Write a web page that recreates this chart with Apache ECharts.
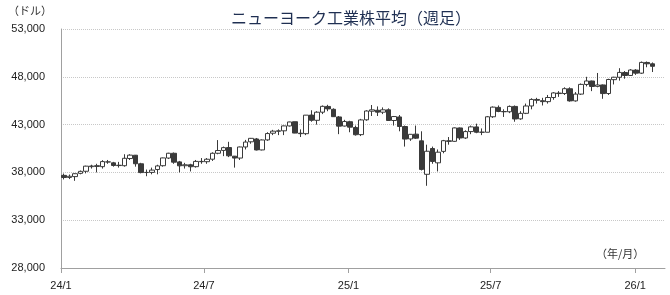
<!DOCTYPE html>
<html><head><meta charset="utf-8">
<script src="https://cdn.jsdelivr.net/npm/echarts@6/dist/echarts.min.js"></script>
<style>html,body{margin:0;padding:0;background:#fff}#c{width:670px;height:295px}</style>
</head><body><div id="c"></div>
<script>
// Week (Friday) dates of each weekly candle
const weekDates = [
'2024-01-05','2024-01-12','2024-01-19','2024-01-26','2024-02-02','2024-02-09','2024-02-16','2024-02-23',
'2024-03-01','2024-03-08','2024-03-15','2024-03-22','2024-03-29','2024-04-05','2024-04-12','2024-04-19','2024-04-26',
'2024-05-03','2024-05-10','2024-05-17','2024-05-24','2024-05-31','2024-06-07','2024-06-14','2024-06-21','2024-06-28',
'2024-07-05','2024-07-12','2024-07-19','2024-07-26','2024-08-02','2024-08-09','2024-08-16','2024-08-23','2024-08-30',
'2024-09-06','2024-09-13','2024-09-20','2024-09-27','2024-10-04','2024-10-11','2024-10-18','2024-10-25',
'2024-11-01','2024-11-08','2024-11-15','2024-11-22','2024-11-29','2024-12-06','2024-12-13','2024-12-20','2024-12-27',
'2025-01-03','2025-01-10','2025-01-17','2025-01-24','2025-01-31','2025-02-07','2025-02-14','2025-02-21','2025-02-28',
'2025-03-07','2025-03-14','2025-03-21','2025-03-28','2025-04-04','2025-04-11','2025-04-18','2025-04-25',
'2025-05-02','2025-05-09','2025-05-16','2025-05-23','2025-05-30','2025-06-06','2025-06-13','2025-06-20','2025-06-27',
'2025-07-04','2025-07-11','2025-07-18','2025-07-25','2025-08-01','2025-08-08','2025-08-15','2025-08-22','2025-08-29',
'2025-09-05','2025-09-12','2025-09-19','2025-09-26','2025-10-03','2025-10-10','2025-10-17','2025-10-24','2025-10-31',
'2025-11-07','2025-11-14','2025-11-21','2025-11-28','2025-12-05','2025-12-12','2025-12-19','2025-12-26',
'2026-01-02','2026-01-09','2026-01-16','2026-01-23'
];
const opens = [
37690,37470,37560,37900,38120,38600,38700,38600,39100,39000,38750,38700,39450,39800,38900,38000,38000,
38300,38700,39500,40000,39100,38700,38800,38600,39150,39120,39380,40000,40300,40600,39700,39500,40660,41200,
41500,40350,41400,42100,42300,42350,42860,43300,42100,42050,44000,43450,44300,44900,44600,43800,42850,
43300,42700,41950,43500,44400,44500,44300,44550,43430,43800,42800,41500,42000,41300,37800,40500,39000,
40200,41300,41250,42650,41600,42270,42760,42200,42200,43820,44800,44370,44340,44900,43600,44180,44950,45630,
45500,45400,45830,46300,46250,46750,45480,46190,47200,47560,47000,47150,46250,47700,47950,48450,48140,
48700,48380,49500,49360
];
const closes = [
37466,37593,37863,38109,38654,38671,38628,39131,39087,38723,38715,39476,39807,38904,37983,37986,38240,
38676,39513,40004,39070,38686,38799,38589,39150,39119,39376,40001,40288,40589,39737,39497,40660,41175,41563,
40345,41394,42063,42313,42352,42864,43276,42114,42052,43989,43445,44297,44911,44643,43828,42840,43326,
42732,41938,43488,44424,44545,44303,44546,43428,43841,42802,41488,41985,41583,38315,40213,39142,40114,
41317,41249,42655,41603,42270,42763,42198,42207,43819,44829,44371,44342,44902,43589,44176,44946,45632,45545,
45401,45834,46315,46247,46758,45480,46191,47207,47563,46987,47147,46245,47716,47955,48458,48135,48711,
48382,49504,49359,49098
];
const lows = [
37266,37300,37120,37800,37900,38400,38000,38400,38900,38600,38500,38600,39300,38600,37900,37600,37800,
37800,38600,39400,38900,38000,38400,38100,38500,38900,38900,39200,39900,39700,39600,38500,39300,40400,41000,
40300,40300,41300,41900,41900,41900,42800,42100,41700,41900,43300,43000,44100,44400,43800,42000,42800,
42200,41850,41800,43400,43900,43900,44100,43400,42900,42300,40700,41300,41500,38200,36600,38900,38100,
40000,40900,41200,41400,41500,42000,42100,41900,42200,43700,44300,43800,44200,43300,43500,44100,44600,45200,
45000,45200,45600,45900,46100,45400,45400,46100,47000,46500,46900,45700,46100,47200,47600,47800,48100,
48200,48300,49000,48500
];
const highs = [
37880,37780,37900,38200,38700,38800,38900,39280,39300,39100,39100,39900,39900,39700,39000,38300,38500,
38800,39550,40050,40080,39200,39000,38900,39300,39500,39500,40100,41380,40700,41200,39600,40700,41400,41600,
41600,41450,42200,42450,42500,42900,43300,43300,42500,44000,44500,44400,45000,45070,44700,43900,43500,
43400,42900,43600,44500,45050,44900,44800,44700,43900,44000,42900,42000,42900,42300,40900,40700,40400,
41400,41700,42700,42700,42400,42900,43100,42600,43900,44900,45000,44600,45000,45000,44400,45200,45750,45800,
45800,46100,46400,46500,46900,46900,46400,47300,48000,47600,48400,47200,47800,48000,48900,48600,48800,
48800,49600,49600,49500
];
const yMin = 28000, yMax = 53000, yStep = 5000;
const xTickLabels = {'2024-01-01':'24/1','2024-07-01':'24/7','2025-01-01':'25/1','2025-07-01':'25/7','2026-01-01':'26/1'};
const axisStart = '2024-01-01', axisEnd = '2026-02-08';

// daily category axis (so ticks fall on exact month starts)
const days = [];
for (let t = Date.parse(axisStart + 'T00:00:00Z'); t <= Date.parse(axisEnd + 'T00:00:00Z'); t += 86400000) {
  days.push(new Date(t).toISOString().slice(0, 10));
}
const candle = days.map(() => '-');
weekDates.forEach((d, i) => {
  const idx = days.indexOf(d);
  if (idx >= 0) candle[idx] = [opens[i], closes[i], lows[i], highs[i]];
});
const isTick = (i, v) => Object.prototype.hasOwnProperty.call(xTickLabels, v);

const chart = echarts.init(document.getElementById('c'), null, {renderer: 'canvas'});
const FONT = '"Liberation Sans", Arial, sans-serif';
chart.setOption({
  animation: false,
  backgroundColor: '#ffffff',
  title: {
    text: 'ニューヨーク工業株平均（週足）',
    left: 346, top: 5, textAlign: 'center',
    textStyle: {fontFamily: '"Noto Sans CJK JP", sans-serif', fontSize: 16, fontWeight: 'normal', color: '#1f2f52'}
  },
  graphic: [
    {type: 'text', left: 8, top: 5, style: {text: '（ドル）', font: '11px "Noto Sans CJK JP", sans-serif', fill: '#333'}},
    {type: 'text', left: 596, top: 248, style: {text: '（年/月）', font: '11px "Noto Sans CJK JP", sans-serif', fill: '#333'}}
  ],
  grid: {left: 61, right: 5, top: 29, bottom: 27, containLabel: false},
  xAxis: {
    type: 'category', data: days, boundaryGap: false,
    axisLine: {show: true, lineStyle: {color: '#a0a0a0', width: 1}},
    axisTick: {show: true, interval: isTick, length: 5, lineStyle: {color: '#a0a0a0'}},
    axisLabel: {interval: isTick, formatter: v => xTickLabels[v] || '', margin: 12, fontSize: 11, color: '#222', fontFamily: FONT},
    splitLine: {show: false}
  },
  yAxis: {
    type: 'value', min: yMin, max: yMax, interval: yStep,
    axisLine: {show: true, lineStyle: {color: '#a0a0a0', width: 1}},
    axisTick: {show: false},
    axisLabel: {formatter: v => v.toLocaleString('en-US'), margin: 16, fontSize: 11, color: '#222', fontFamily: FONT},
    splitLine: {show: true, lineStyle: {color: '#c8c8c8', type: 'dotted', width: 1}}
  },
  series: [{
    type: 'candlestick', data: candle, large: false, barWidth: 5, clip: false,
    itemStyle: {color: '#ffffff', color0: '#3a3a3a', borderColor: '#3a3a3a', borderColor0: '#3a3a3a', borderWidth: 1}
  }]
});
</script>
</body></html>
